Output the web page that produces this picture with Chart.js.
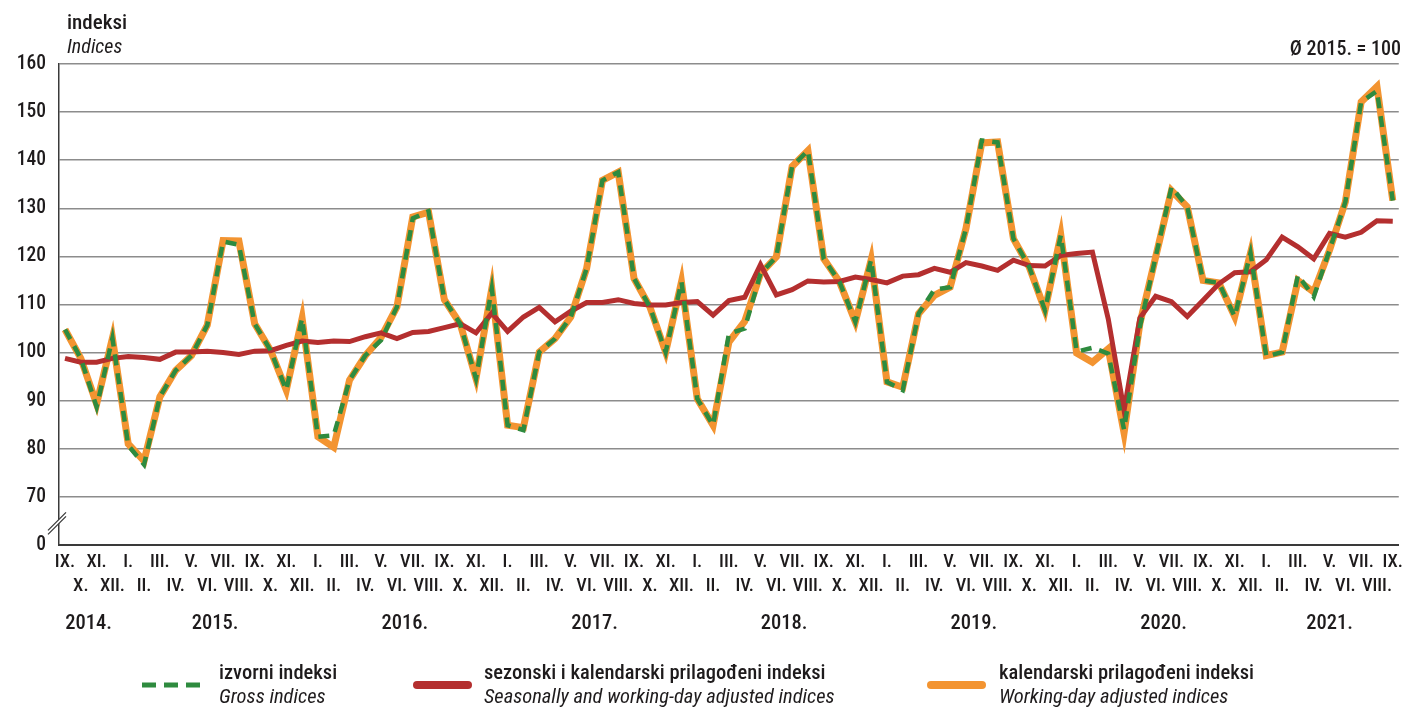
<!DOCTYPE html>
<html>
<head>
<meta charset="utf-8">
<script src="https://cdn.jsdelivr.net/npm/chart.js@4.4.1/dist/chart.umd.min.js"></script>
<style>
  html, body { margin: 0; padding: 0; background: #ffffff; }
  #wrap { position: relative; width: 1409px; height: 707px; overflow: hidden; }
  #c { position: absolute; left: 0; top: 0; }
  .txt { position: absolute; white-space: nowrap; color: #1e1b1c; font-family: "Roboto Condensed", Roboto, "Liberation Sans", sans-serif; line-height: 1; font-weight: 500; }
  .it { font-style: italic; font-weight: 400; }
</style>
</head>
<body>
<div id="wrap">
  <canvas id="c" width="1409" height="707"></canvas>
  <div class="txt" style="left:67px; top:12px; font-size:21px;">indeksi</div>
  <div class="txt it" style="left:67px; top:36px; font-size:20px;">Indices</div>
  <div class="txt" style="right:8px; top:38px; font-size:20px;">Ø 2015. = 100</div>

  <svg style="position:absolute; left:0; top:0;" width="1409" height="707">
    <line x1="142" y1="685" x2="202" y2="685" stroke="#2e8b3f" stroke-width="5" stroke-dasharray="14 8"/>
    <line x1="417" y1="685" x2="468" y2="685" stroke="#b42f2f" stroke-width="8" stroke-linecap="round"/>
    <line x1="931" y1="685" x2="982" y2="685" stroke="#f39431" stroke-width="8" stroke-linecap="round"/>
  </svg>
  <div class="txt" style="left:219px; top:662px; font-size:20.5px;">izvorni indeksi</div>
  <div class="txt it" style="left:219px; top:686px; font-size:20.5px;">Gross indices</div>
  <div class="txt" style="left:484px; top:662px; font-size:20.5px;">sezonski i kalendarski prilagođeni indeksi</div>
  <div class="txt it" style="left:484px; top:686px; font-size:20.5px;">Seasonally and working-day adjusted indices</div>
  <div class="txt" style="left:999px; top:662px; font-size:20.5px;">kalendarski prilagođeni indeksi</div>
  <div class="txt it" style="left:999px; top:686px; font-size:20.5px;">Working-day adjusted indices</div>
</div>
<script>
// ---- categories (IX. 2014 – IX. 2021) ----
const months = [
  'IX.','X.','XI.','XII.',
  'I.','II.','III.','IV.','V.','VI.','VII.','VIII.','IX.','X.','XI.','XII.',
  'I.','II.','III.','IV.','V.','VI.','VII.','VIII.','IX.','X.','XI.','XII.',
  'I.','II.','III.','IV.','V.','VI.','VII.','VIII.','IX.','X.','XI.','XII.',
  'I.','II.','III.','IV.','V.','VI.','VII.','VIII.','IX.','X.','XI.','XII.',
  'I.','II.','III.','IV.','V.','VI.','VII.','VIII.','IX.','X.','XI.','XII.',
  'I.','II.','III.','IV.','V.','VI.','VII.','VIII.','IX.','X.','XI.','XII.',
  'I.','II.','III.','IV.','V.','VI.','VII.','VIII.','IX.'
];
const years = ['2014.','2015.','2016.','2017.','2018.','2019.','2020.','2021.'];

// ---- series ----
const grossIndices = [
  104.8, 98.8, 88.7, 103.0,
  80.7, 76.7, 90.8, 96.3, 99.4, 105.7, 123.1, 122.4, 106.0, 100.5, 92.2, 107.1,
  82.5, 82.8, 94.3, 99.4, 102.6, 109.5, 127.9, 129.4, 111.0, 106.0, 94.6, 113.3,
  84.9, 83.9, 100.1, 102.9, 107.4, 117.5, 135.8, 137.5, 115.4, 109.5, 100.1, 114.7,
  90.4, 84.9, 103.9, 105.0, 116.4, 119.9, 138.7, 142.0, 119.5, 114.7, 106.4, 119.3,
  93.9, 92.2, 108.1, 113.1, 113.6, 125.8, 144.1, 143.7, 123.7, 117.8, 108.8, 124.4,
  100.2, 101.0, 99.8, 84.0, 105.3, 119.9, 134.4, 130.3, 115.0, 114.5, 107.5, 120.7,
  99.2, 100.1, 116.1, 111.6, 121.3, 131.3, 152.1, 154.4, 131.6
];
const seasAdjIndices = [
  98.8, 98.0, 98.0, 98.8,
  99.2, 99.0, 98.6, 100.1, 100.1, 100.3, 100.0, 99.6, 100.3, 100.4, 101.5, 102.4,
  102.1, 102.4, 102.3, 103.3, 104.1, 102.9, 104.2, 104.4, 105.2, 106.0, 104.1, 108.2,
  104.4, 107.4, 109.4, 106.4, 108.6, 110.4, 110.4, 111.0, 110.2, 109.9, 109.9, 110.4,
  110.6, 107.8, 110.8, 111.5, 118.3, 112.0, 113.1, 114.9, 114.7, 114.8, 115.7, 115.2,
  114.5, 115.9, 116.2, 117.5, 116.7, 118.7, 118.0, 117.1, 119.2, 118.1, 118.0, 120.2,
  120.6, 120.9, 107.0, 88.0, 107.2, 111.7, 110.6, 107.5, 110.9, 114.3, 116.6, 116.8,
  119.3, 124.0, 122.0, 119.5, 124.8, 124.0, 125.0, 127.4, 127.3
];
const workDayIndices = [
  104.8, 98.8, 89.3, 103.0,
  81.0, 77.5, 90.8, 96.3, 99.4, 105.7, 123.3, 123.2, 106.0, 100.5, 92.2, 107.1,
  82.5, 80.3, 94.3, 99.4, 103.2, 109.5, 128.2, 129.2, 111.0, 106.0, 94.6, 113.3,
  84.9, 84.4, 100.1, 102.9, 107.4, 117.5, 135.8, 137.5, 115.4, 109.5, 100.1, 114.7,
  90.4, 84.9, 102.2, 106.5, 116.4, 119.9, 138.7, 142.0, 119.5, 114.7, 106.4, 119.3,
  93.9, 92.8, 108.1, 111.9, 113.6, 125.8, 143.6, 143.8, 123.7, 117.8, 108.8, 124.4,
  99.9, 98.0, 100.8, 83.3, 106.0, 119.9, 133.7, 130.3, 115.0, 114.5, 107.5, 120.7,
  99.4, 100.1, 115.0, 112.6, 121.3, 131.3, 152.1, 155.3, 131.6
];

// ---- y axis ticks (axis broken below 70; bottom tick shows 0) ----
const yTickValues = [60, 70, 80, 90, 100, 110, 120, 130, 140, 150, 160];
const yTickLabels = ['0', '70', '80', '90', '100', '110', '120', '130', '140', '150', '160'];

const FONT = '"Roboto Condensed", Roboto, "Liberation Sans", sans-serif';
const TEXT = '#1e1b1c';

// year spans derived from the month list
const yearSpans = [];
(function () {
  let y = 0, start = 0;
  for (let i = 1; i <= months.length; i++) {
    if (i === months.length || months[i] === 'I.') {
      yearSpans.push({ label: years[y], start: start, end: i - 1 });
      y++; start = i;
    }
  }
})();

const toPts = arr => arr.map((v, i) => ({ x: i, y: v }));

const extras = {
  id: 'extras',
  afterDraw(chart) {
    const { ctx, scales: { x, y }, chartArea } = chart;
    ctx.save();
    // year labels
    ctx.font = '500 20.5px ' + FONT;
    ctx.fillStyle = TEXT;
    ctx.textAlign = 'center';
    ctx.textBaseline = 'middle';
    yearSpans.forEach(s => {
      const cx = (x.getPixelForValue(s.start) + x.getPixelForValue(s.end)) / 2;
      ctx.fillText(s.label, cx, 624);
    });
    // axis break marks
    const bx = chartArea.left, by = y.getPixelForValue(64.7);
    ctx.fillStyle = '#ffffff';
    ctx.beginPath();
    ctx.moveTo(bx - 10, by + 7);
    ctx.lineTo(bx + 7, by - 10);
    ctx.lineTo(bx + 7, by - 6);
    ctx.lineTo(bx - 10, by + 11);
    ctx.closePath();
    ctx.fill();
    ctx.strokeStyle = '#3a3a3a';
    ctx.lineWidth = 1.3;
    ctx.beginPath();
    ctx.moveTo(bx - 11, by + 8); ctx.lineTo(bx + 7, by - 10);
    ctx.moveTo(bx - 11, by + 12); ctx.lineTo(bx + 7, by - 6);
    ctx.stroke();
    ctx.restore();
  }
};

new Chart(document.getElementById('c'), {
  type: 'line',
  data: {
    datasets: [
      { label: 'kalendarski prilagođeni indeksi', data: toPts(workDayIndices), borderColor: '#f39431', borderWidth: 7, pointRadius: 0, order: 3 },
      { label: 'sezonski i kalendarski prilagođeni indeksi', data: toPts(seasAdjIndices), borderColor: '#b42f2f', borderWidth: 5, pointRadius: 0, order: 2 },
      { label: 'izvorni indeksi', data: toPts(grossIndices), borderColor: '#2e8b3f', borderWidth: 4.5, borderDash: [11, 8], pointRadius: 0, order: 1 }
    ]
  },
  options: {
    responsive: false,
    animation: false,
    devicePixelRatio: 1,
    layout: { padding: { top: 64, right: 6, left: 0, bottom: 0 } },
    plugins: { legend: { display: false }, tooltip: { enabled: false } },
    elements: { line: { tension: 0, borderCapStyle: 'butt', borderJoinStyle: 'miter' } },
    scales: {
      x: {
        type: 'linear',
        min: -0.38,
        max: 84.38,
        grid: { display: false, drawTicks: false },
        border: { display: true, color: '#3a3a3a', width: 2 },
        afterBuildTicks: s => { s.ticks = months.map((m, i) => ({ value: i })); },
        afterFit: s => { s.height = 162; },
        ticks: {
          autoSkip: false, maxRotation: 0, minRotation: 0, padding: 6,
          color: TEXT,
          font: { family: FONT, size: 18.5, weight: '500', lineHeight: 1.27 },
          callback: (v) => { const i = Math.round(v); return i % 2 === 0 ? [months[i], ''] : ['', months[i]]; }
        }
      },
      y: {
        min: 60,
        max: 160,
        afterBuildTicks: s => { s.ticks = yTickValues.map(v => ({ value: v })); },
        afterFit: s => { s.width = 59; },
        grid: {
          drawTicks: false,
          color: c => (c.tick && c.tick.value === 60) ? 'rgba(0,0,0,0)' : '#8c8c8c',
          lineWidth: 1.5
        },
        border: { display: true, color: '#3a3a3a', width: 1.5 },
        ticks: {
          padding: 13,
          color: TEXT,
          font: { family: FONT, size: 19.5, weight: '500' },
          callback: (v, idx) => yTickLabels[idx]
        }
      }
    }
  },
  plugins: [extras]
});
</script>
</body>
</html>
